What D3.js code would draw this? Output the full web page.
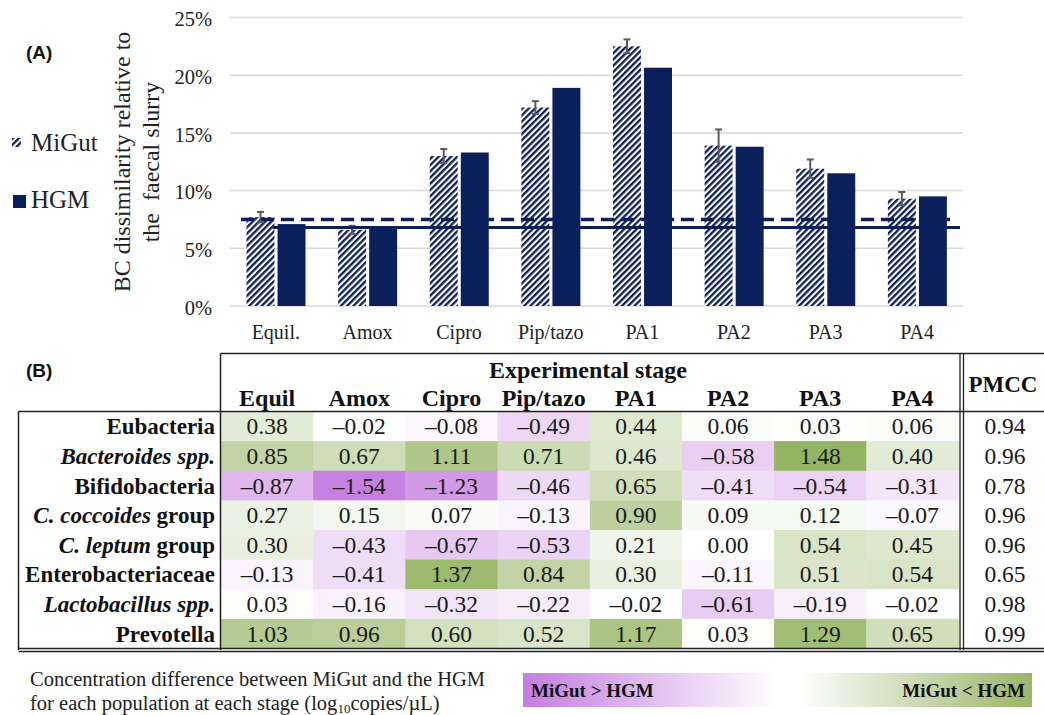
<!DOCTYPE html>
<html>
<head>
<meta charset="utf-8">
<script src="https://cdn.jsdelivr.net/npm/d3@7"></script>
<style>
  html, body { margin: 0; padding: 0; background: #ffffff; }
  svg { display: block; }
</style>
</head>
<body>
<svg id="fig" width="1044" height="715"></svg>
<script>
// ---------- Panel A: BC dissimilarity ----------
const stagesA = ["Equil.", "Amox", "Cipro", "Pip/tazo", "PA1", "PA2", "PA3", "PA4"];
const seriesA = ["MiGut", "HGM"];
const miGutBC = [7.7, 6.6, 13.0, 17.2, 22.5, 13.9, 11.9, 9.3];   // %
const miGutErr = [0.45, 0.35, 0.6, 0.55, 0.6, 1.4, 0.8, 0.58];   // % (±)
const hgmBC = [7.1, 6.8, 13.3, 18.9, 20.65, 13.8, 11.5, 9.5];    // %
const miGutMeanLine = 7.5;   // dashed reference
const hgmMeanLine = 6.8;     // solid reference
const yTicksA = [0, 5, 10, 15, 20, 25];

// ---------- Panel B: concentration differences ----------
const stagesB = ["Equil", "Amox", "Cipro", "Pip/tazo", "PA1", "PA2", "PA3", "PA4"];
const populations = [
  [{ t: "Eubacteria" }],
  [{ t: "Bacteroides spp.", i: true }],
  [{ t: "Bifidobacteria" }],
  [{ t: "C. coccoides", i: true }, { t: " group" }],
  [{ t: "C. leptum", i: true }, { t: " group" }],
  [{ t: "Enterobacteriaceae" }],
  [{ t: "Lactobacillus spp.", i: true }],
  [{ t: "Prevotella" }]
];
const eubacteria   = [0.38, -0.02, -0.08, -0.49, 0.44, 0.06, 0.03, 0.06];
const bacteroides  = [0.85, 0.67, 1.11, 0.71, 0.46, -0.58, 1.48, 0.40];
const bifido       = [-0.87, -1.54, -1.23, -0.46, 0.65, -0.41, -0.54, -0.31];
const cCoccoides   = [0.27, 0.15, 0.07, -0.13, 0.90, 0.09, 0.12, -0.07];
const cLeptum      = [0.30, -0.43, -0.67, -0.53, 0.21, 0.00, 0.54, 0.45];
const enterobact   = [-0.13, -0.41, 1.37, 0.84, 0.30, -0.11, 0.51, 0.54];
const lactobacillus= [0.03, -0.16, -0.32, -0.22, -0.02, -0.61, -0.19, -0.02];
const prevotella   = [1.03, 0.96, 0.60, 0.52, 1.17, 0.03, 1.29, 0.65];
const pmcc = [0.94, 0.96, 0.78, 0.96, 0.96, 0.65, 0.98, 0.99];
const diffRows = [eubacteria, bacteroides, bifido, cCoccoides, cLeptum, enterobact, lactobacillus, prevotella];

const SERIF = "'Liberation Serif', 'Times New Roman', serif";
const SANS = "'Liberation Sans', Arial, sans-serif";
const NAVY = "#0b1f5c";

const svg = d3.select("#fig");
svg.append("rect").attr("width", 1044).attr("height", 715).attr("fill", "#fff");

const defs = svg.append("defs");
const hatch = defs.append("pattern")
  .attr("id", "hatch").attr("patternUnits", "userSpaceOnUse")
  .attr("width", 4.4).attr("height", 4.4)
  .attr("patternTransform", "rotate(45)");
hatch.append("rect").attr("width", 4.4).attr("height", 4.4).attr("fill", "#fff");
hatch.append("rect").attr("width", 2.3).attr("height", 4.4).attr("fill", NAVY);

// ---- Panel A ----
const x0 = d3.scaleBand().domain(stagesA).range([230, 963]);
const x1 = d3.scaleBand().domain(seriesA).range([16.5, 75.5]).paddingInner(0.1);
const y = d3.scaleLinear().domain([0, 25]).range([306, 17.5]);

const gA = svg.append("g");
gA.selectAll("line.grid").data(yTicksA).join("line")
  .attr("class", "grid")
  .attr("x1", 230).attr("x2", 963)
  .attr("y1", d => y(d)).attr("y2", d => y(d))
  .attr("stroke", "#d9d9d9").attr("stroke-width", 1.5);

const yAxis = d3.axisLeft(y).tickValues(yTicksA).tickFormat(d => d + "%").tickSize(0).tickPadding(0);
const yg = gA.append("g").attr("transform", "translate(212,0)").call(yAxis);
yg.select(".domain").remove();
yg.selectAll("text").attr("font-family", SERIF).attr("font-size", 20.5).attr("fill", "#222").attr("dy", "0.4em");

const xAxis = d3.axisBottom(x0).tickSize(0).tickPadding(0);
const xg = gA.append("g").attr("transform", "translate(0,321)").call(xAxis);
xg.select(".domain").remove();
xg.selectAll("text").attr("font-family", SERIF).attr("font-size", 20).attr("fill", "#222").attr("dy", "0.9em");

const groups = gA.selectAll("g.stage").data(stagesA.map((s, i) => ({ s, i }))).join("g")
  .attr("class", "stage")
  .attr("transform", d => `translate(${x0(d.s)},0)`);

groups.append("rect")
  .attr("x", x1("MiGut")).attr("width", x1.bandwidth())
  .attr("y", d => y(miGutBC[d.i])).attr("height", d => y(0) - y(miGutBC[d.i]))
  .attr("fill", "url(#hatch)");
groups.append("rect")
  .attr("x", x1("HGM")).attr("width", x1.bandwidth())
  .attr("y", d => y(hgmBC[d.i])).attr("height", d => y(0) - y(hgmBC[d.i]))
  .attr("fill", NAVY);

// reference lines for the equilibrium level of each model
gA.append("line")
  .attr("x1", 273).attr("x2", 960)
  .attr("y1", y(hgmMeanLine)).attr("y2", y(hgmMeanLine))
  .attr("stroke", NAVY).attr("stroke-width", 3);
gA.append("line")
  .attr("x1", 241).attr("x2", 950)
  .attr("y1", y(miGutMeanLine)).attr("y2", y(miGutMeanLine))
  .attr("stroke", NAVY).attr("stroke-width", 3.5).attr("stroke-dasharray", "13,7");

// error bars on MiGut
const eb = groups.append("g").attr("stroke", "#5a5a5a").attr("stroke-width", 2);
const cxErr = x1("MiGut") + x1.bandwidth() / 2;
eb.append("line").attr("x1", cxErr).attr("x2", cxErr)
  .attr("y1", d => y(miGutBC[d.i] + miGutErr[d.i])).attr("y2", d => y(miGutBC[d.i] - miGutErr[d.i]));
eb.append("line").attr("x1", cxErr - 3.5).attr("x2", cxErr + 3.5)
  .attr("y1", d => y(miGutBC[d.i] + miGutErr[d.i])).attr("y2", d => y(miGutBC[d.i] + miGutErr[d.i]));
eb.append("line").attr("x1", cxErr - 3.5).attr("x2", cxErr + 3.5)
  .attr("y1", d => y(miGutBC[d.i] - miGutErr[d.i])).attr("y2", d => y(miGutBC[d.i] - miGutErr[d.i]));

// y axis title (two lines, rotated)
const yt = gA.append("text")
  .attr("transform", "translate(130,162) rotate(-90)")
  .attr("text-anchor", "middle")
  .attr("font-family", SERIF).attr("font-size", 24).attr("fill", "#222");
yt.append("tspan").attr("x", 0).attr("y", 0).text("BC dissimilarity relative to");
yt.append("tspan").attr("x", 0).attr("y", 29).attr("xml:space", "preserve").text("the  faecal slurry");

// panel label and legend
svg.append("text").attr("x", 26).attr("y", 59).attr("font-family", SANS).attr("font-weight", "bold")
  .attr("font-size", 19).attr("fill", "#111").text("(A)");

const legend = svg.append("g");
legend.append("rect").attr("x", 12).attr("y", 138).attr("width", 9).attr("height", 9).attr("fill", "url(#hatch)");
legend.append("text").attr("x", 31).attr("y", 151).attr("font-family", SERIF).attr("font-size", 25)
  .attr("fill", "#222").text(seriesA[0]);
legend.append("rect").attr("x", 13).attr("y", 195).attr("width", 13).attr("height", 13).attr("fill", NAVY);
legend.append("text").attr("x", 31).attr("y", 208).attr("font-family", SERIF).attr("font-size", 25)
  .attr("fill", "#222").text(seriesA[1]);

// ---- Panel B ----
svg.append("text").attr("x", 26).attr("y", 377).attr("font-family", SANS).attr("font-weight", "bold")
  .attr("font-size", 19).attr("fill", "#111").text("(B)");

const xc = d3.scaleBand().domain(stagesB).range([221, 958.5]);
const rowY = d3.scaleBand().domain(d3.range(populations.length)).range([411.5, 648.5]);
const color = d3.scaleLinear().domain([-1.54, 0, 1.48]).range(["#c680df", "#ffffff", "#93b462"]);
const fmt = v => d3.format(".2f")(v).replace(/[-\u2212]/, "\u2013");

const gB = svg.append("g");
const rows = gB.selectAll("g.row").data(diffRows.map((vals, r) => ({ vals, r }))).join("g")
  .attr("class", "row")
  .attr("transform", d => `translate(0,${rowY(d.r)})`);

rows.selectAll("rect").data(d => d.vals.map((v, c) => ({ v, c }))).join("rect")
  .attr("x", d => xc(stagesB[d.c])).attr("width", xc.bandwidth() + 0.5)
  .attr("y", 0).attr("height", rowY.bandwidth() + 0.5)
  .attr("fill", d => color(d.v));

rows.selectAll("text.val").data(d => d.vals.map((v, c) => ({ v, c }))).join("text")
  .attr("class", "val")
  .attr("x", d => xc(stagesB[d.c]) + xc.bandwidth() / 2)
  .attr("y", rowY.bandwidth() / 2 + 8)
  .attr("text-anchor", "middle").attr("font-family", SERIF).attr("font-size", 23.5).attr("fill", "#1a1a1a")
  .text(d => fmt(d.v));

rows.append("text")
  .attr("x", 1005).attr("y", rowY.bandwidth() / 2 + 8)
  .attr("text-anchor", "middle").attr("font-family", SERIF).attr("font-size", 23.5).attr("fill", "#1a1a1a")
  .text(d => pmcc[d.r].toFixed(2));

rows.append("text")
  .attr("x", 215).attr("y", rowY.bandwidth() / 2 + 8)
  .attr("text-anchor", "end").attr("font-family", SERIF).attr("font-size", 23)
  .attr("font-weight", "bold").attr("fill", "#111")
  .attr("xml:space", "preserve")
  .selectAll("tspan").data(d => populations[d.r]).join("tspan")
  .attr("font-style", d => d.i ? "italic" : "normal")
  .text(d => d.t);

// header texts
gB.append("text").attr("x", 588).attr("y", 378).attr("text-anchor", "middle")
  .attr("font-family", SERIF).attr("font-weight", "bold").attr("font-size", 24).attr("fill", "#111")
  .text("Experimental stage");
gB.selectAll("text.colh").data(stagesB).join("text").attr("class", "colh")
  .attr("x", d => xc(d) + xc.bandwidth() / 2).attr("y", 406)
  .attr("text-anchor", "middle").attr("font-family", SERIF).attr("font-weight", "bold")
  .attr("font-size", 24).attr("fill", "#111").text(d => d);
gB.append("text").attr("x", 1003).attr("y", 392).attr("text-anchor", "middle")
  .attr("font-family", SERIF).attr("font-weight", "bold").attr("font-size", 23).attr("fill", "#111")
  .text("PMCC");

// table rules
const rule = (x1_, y1_, x2_, y2_, w) => gB.append("line")
  .attr("x1", x1_).attr("y1", y1_).attr("x2", x2_).attr("y2", y2_)
  .attr("stroke", "#222").attr("stroke-width", w || 1.5);
rule(220.5, 353.5, 1044, 353.5);
rule(220.5, 353.5, 220.5, 650);
rule(18.5, 411.5, 1044, 411.5);
rule(18.5, 411.5, 18.5, 650);
rule(960, 353.5, 960, 650, 1.3);
rule(963.5, 353.5, 963.5, 650, 1.3);
rule(18.5, 648.5, 1044, 648.5, 1.3);
rule(18.5, 651.5, 1044, 651.5, 1.3);

// colour key
const grad = defs.append("linearGradient").attr("id", "key").attr("x1", "0%").attr("x2", "100%");
grad.append("stop").attr("offset", "0%").attr("stop-color", "#c47de0");
grad.append("stop").attr("offset", "50%").attr("stop-color", "#ffffff");
grad.append("stop").attr("offset", "54%").attr("stop-color", "#ffffff");
grad.append("stop").attr("offset", "100%").attr("stop-color", "#98b667");
svg.append("rect").attr("x", 523).attr("y", 673).attr("width", 509).attr("height", 34).attr("fill", "url(#key)");
svg.append("text").attr("x", 531).attr("y", 697).attr("font-family", SERIF).attr("font-weight", "bold")
  .attr("font-size", 19).attr("fill", "#111").text("MiGut > HGM");
svg.append("text").attr("x", 1025).attr("y", 697).attr("text-anchor", "end").attr("font-family", SERIF)
  .attr("font-weight", "bold").attr("font-size", 19).attr("fill", "#111").text("MiGut < HGM");

// caption for the colour key (two separate lines)
const capStyle = sel => sel.attr("font-family", SERIF).attr("font-size", 20.5).attr("fill", "#222");
svg.append("text").attr("x", 30).attr("y", 686).call(capStyle)
  .text("Concentration difference between MiGut and the HGM");
const cap2 = svg.append("text").attr("x", 30).attr("y", 710).call(capStyle);
cap2.append("tspan").text("for each population at each stage (log");
cap2.append("tspan").attr("font-size", 13).attr("dy", 3).text("10");
cap2.append("tspan").attr("dy", -3).text("copies/\u00b5L)");
</script>
</body>
</html>
